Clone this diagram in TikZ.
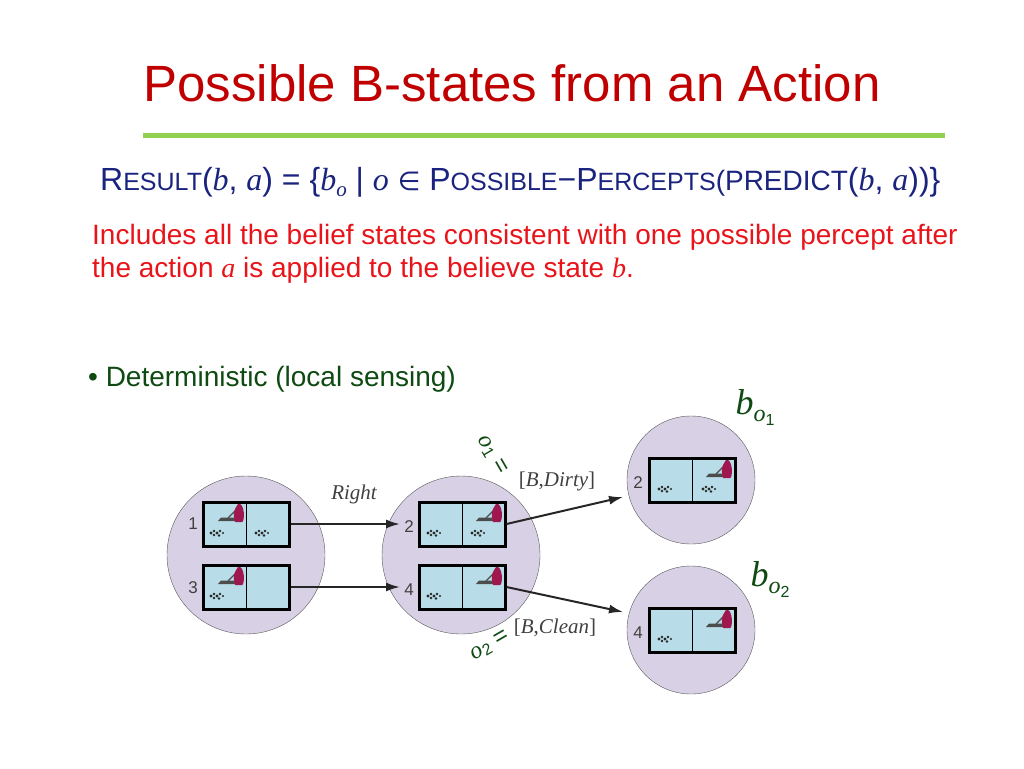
\documentclass[tikz,border=0pt]{standalone}
\usepackage{fontspec}
\setmainfont{Liberation Sans}
\newfontfamily\serifit{Liberation Serif}
\newfontfamily\dejavu{DejaVu Sans}
\usetikzlibrary{arrows.meta}
\definecolor{titlered}{HTML}{C00000}
\definecolor{txtred}{HTML}{E8141A}
\definecolor{lgreen}{HTML}{92D050}
\definecolor{dgreen}{HTML}{0E4A12}
\definecolor{navy}{HTML}{1A237E}
\definecolor{lav}{HTML}{D8D0E4}
\definecolor{cellblue}{HTML}{B8DDE8}
\definecolor{vacred}{HTML}{A0164E}
\newcommand{\mi}[1]{{\serifit\itshape #1}}
\tikzset{
 bstate/.style={circle,draw=gray!70!black,fill=lav,minimum size=158pt,inner sep=0pt},
 bstatesm/.style={circle,draw=gray!70!black,fill=lav,minimum size=128pt,inner sep=0pt},
 cell/.style={draw=black,line width=0.8pt,fill=cellblue,minimum width=43pt,minimum height=44pt,inner sep=0pt},
 frame/.style={draw=black,line width=3pt,minimum width=86pt,minimum height=44pt,inner sep=0pt},
 num/.style={font=\fontsize{17}{17}\selectfont,text=black!75},
 arr/.style={-{Latex[length=14pt,width=9pt]},line width=2pt,black!85},
 lbl/.style={font=\serifit\fontsize{21}{21}\selectfont,text=black!75},
 obs/.style={font=\fontsize{24}{24}\selectfont,text=dgreen}
}
\newcommand{\dirtat}[2]{\fill[gray!30!black] (#1,#2) circle (1.6) (#1+3,#2-2) circle (1.3) (#1+6,#2) circle (1.6) (#1+9,#2-2) circle (1.3) (#1+3,#2+2) circle (1.3) (#1+8,#2+2.5) circle (1.3) (#1+12,#2) circle (1.2);}
\newcommand{\vacat}[2]{\fill[black!70] (#1-14,#2+7) -- (#1+4,#2+7) -- (#1+2,#2+3.5) -- (#1-11,#2+3.5) -- cycle;
 \draw[black!70,line width=1.2pt] (#1-4,#2+4) -- (#1+5,#2-5);
 \fill[vacred] (#1+3,#2+8) .. controls (#1+1,#2-2) .. (#1+6,#2-10) .. controls (#1+13,#2-12) and (#1+13,#2+8) .. (#1+10,#2+8) -- cycle;}
\newcommand{\cellpair}[3]{% name, center x, center y
 \node[cell] (#1l) at (#2-21.5,#3) {};
 \node[cell] (#1r) at (#2+21.5,#3) {};
 \node[frame] (#1) at (#2,#3) {};}
\newcommand{\fbig}{\fontsize{32}{32}\selectfont}
\newcommand{\fsm}{\fontsize{25}{25}\selectfont}
\begin{document}
\begin{tikzpicture}[x=1pt,y=-1pt]
\useasboundingbox (0,0) rectangle (1024,768);
\node[text=titlered,font=\fontsize{51}{51}\selectfont] (title) at (512,83) {Possible B-states from an Action};
\draw[lgreen,line width=5pt] (143,135) -- (945,135);
\node[anchor=west,text=navy,font=\fbig,inner sep=0pt] (formula) at (100,182)
 {R\fsm ESULT\fbig(\mi{b}, \mi{a}) = \{\mi{b}\raisebox{-6pt}{\fontsize{21}{21}\selectfont\mi{o}} | \mi{o} {\dejavu\fontsize{26}{26}\selectfont ∈} P\fsm OSSIBLE\fbig−P\fsm ERCEPTS\fontsize{28}{28}\selectfont(PREDICT\fbig(\mi{b}, \mi{a}))\}};
\node[anchor=west,text=txtred,font=\fontsize{28}{28}\selectfont,inner sep=0pt] (l1) at (92,237) {Includes all the belief states consistent with one possible percept after};
\node[anchor=west,text=txtred,font=\fontsize{28}{28}\selectfont,inner sep=0pt] (l2) at (92,270) {the action \mi{a} is applied to the believe state \mi{b}.};
\node[anchor=west,text=dgreen,font=\fontsize{28}{28}\selectfont,inner sep=0pt] (bul) at (88,379) {\textbullet\ Deterministic (local sensing)};
% circles
\node[bstate] (c1) at (246,555) {};
\node[bstate] (c2) at (461,555) {};
\node[bstatesm] (c3) at (691,480) {};
\node[bstatesm] (c4) at (691,630) {};
% boxes
\cellpair{s1}{246}{524}
\cellpair{s3}{246}{587}
\cellpair{s2}{462}{524}
\cellpair{s4}{462}{587}
\cellpair{t2}{692}{480}
\cellpair{t4}{692}{630}
% contents
\vacat{232}{514}\dirtat{211}{533}\dirtat{256}{533}
\vacat{232}{577}\dirtat{211}{596}
\dirtat{428}{533}\vacat{490}{514}\dirtat{472}{533}
\dirtat{428}{596}\vacat{490}{577}
\dirtat{659}{489}\vacat{720}{470}\dirtat{703}{489}
\dirtat{659}{639}\vacat{720}{620}
% numbers
\node[num] (n1) at (193,524) {1};
\node[num] (n3) at (193,588) {3};
\node[num] (n2) at (409,527) {2};
\node[num] (n4) at (409,590) {4};
\node[num] (m2) at (638,483) {2};
\node[num] (m4) at (638,633) {4};
% arrows
\coordinate (e1) at (400,524);
\coordinate (e2) at (400,587);
\coordinate (e3) at (623,497);
\coordinate (e4) at (623,612);
\draw[arr] (s1.east) -- (e1);
\draw[arr] (s3.east) -- (e2);
\draw[arr] (s2.east) -- (e3);
\draw[arr] (s4.east) -- (e4);
\node[lbl,font=\serifit\itshape\fontsize{21}{21}\selectfont] (right) at (354,494) {Right};
\node[lbl] (dirty) at (557,481) {[\textit{B},\textit{Dirty}]};
\node[lbl] (clean) at (555,628) {[\textit{B},\textit{Clean}]};
\node[obs,rotate=-60] (o1) at (492,455) {\mi{o}\raisebox{-3pt}{\fontsize{16}{16}\selectfont 1} =};
\node[obs,rotate=30] (o2) at (490,646) {\mi{o}\raisebox{-3pt}{\fontsize{16}{16}\selectfont 2} =};
\node[text=dgreen,font=\fontsize{36}{36}\selectfont] (bo1) at (755,408) {\mi{b}\raisebox{-7pt}{\fontsize{24}{24}\selectfont\mi{o}\raisebox{-4pt}{\fontsize{16}{16}\selectfont 1}}};
\node[text=dgreen,font=\fontsize{36}{36}\selectfont] (bo2) at (770,580) {\mi{b}\raisebox{-7pt}{\fontsize{24}{24}\selectfont\mi{o}\raisebox{-4pt}{\fontsize{16}{16}\selectfont 2}}};
\end{tikzpicture}
\end{document}
